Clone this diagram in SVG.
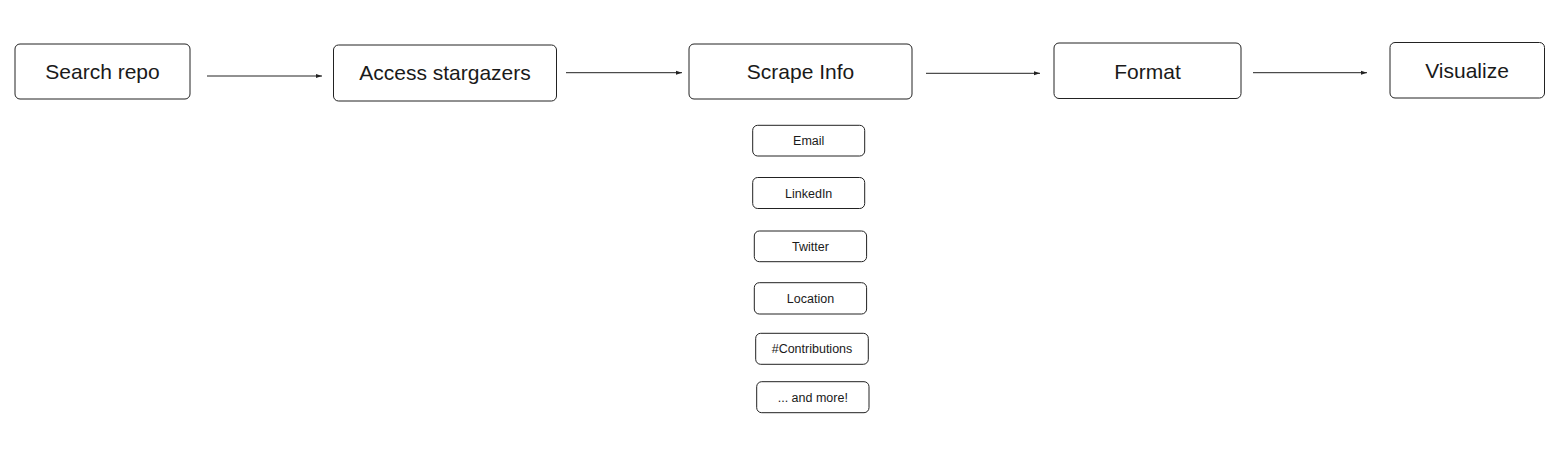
<svg xmlns="http://www.w3.org/2000/svg" width="1568" height="458" viewBox="0 0 1568 458">
<style>
.box{fill:#fff;stroke:#222;stroke-width:1}
.big{font-family:"Liberation Sans",Arial,sans-serif;font-size:21px;fill:#1a1a1a;text-anchor:middle}
.sm{font-family:"Liberation Sans",Arial,sans-serif;font-size:12.5px;fill:#1a1a1a;text-anchor:middle}
.edge{stroke:#222;stroke-width:1;fill:none}
</style>
<defs>
<marker id="ah" viewBox="0 0 6 6" refX="6" refY="3" markerWidth="6" markerHeight="6" markerUnits="userSpaceOnUse" orient="auto">
<path d="M0,1 L6,3 L0,5 Z" fill="#222"/>
</marker>
</defs>
<rect width="1568" height="458" fill="#fff"/>
<g id="connectors">
<line class="edge" x1="207" y1="76" x2="322" y2="76" marker-end="url(#ah)"/>
<line class="edge" x1="566" y1="72.7" x2="682" y2="72.7" marker-end="url(#ah)"/>
<line class="edge" x1="926" y1="73.3" x2="1040" y2="73.3" marker-end="url(#ah)"/>
<line class="edge" x1="1253" y1="72.7" x2="1367" y2="72.7" marker-end="url(#ah)"/>
</g>
<g id="search-repo"><rect class="box" x="15" y="44" width="175" height="55" rx="5"/><text class="big" x="102.5" y="79">Search repo</text></g>
<g id="access-stargazers"><rect class="box" x="333.5" y="45" width="223" height="56" rx="5"/><text class="big" x="445" y="80">Access stargazers</text></g>
<g id="scrape-info"><rect class="box" x="689" y="44" width="223" height="55" rx="5"/><text class="big" x="800.5" y="79">Scrape Info</text></g>
<g id="format"><rect class="box" x="1054" y="43" width="187" height="55.5" rx="5"/><text class="big" x="1147.5" y="78.5">Format</text></g>
<g id="visualize"><rect class="box" x="1390" y="42.5" width="154.5" height="55.5" rx="5"/><text class="big" x="1467" y="78">Visualize</text></g>
<g id="email"><rect class="box" x="752.7" y="125.3" width="112" height="30.7" rx="5"/><text class="sm" x="808.7" y="145.2">Email</text></g>
<g id="linkedin"><rect class="box" x="752.7" y="177.5" width="112" height="31" rx="5"/><text class="sm" x="808.7" y="197.5">LinkedIn</text></g>
<g id="twitter"><rect class="box" x="754.3" y="231" width="112.3" height="30.7" rx="5"/><text class="sm" x="810.5" y="250.8">Twitter</text></g>
<g id="location"><rect class="box" x="754.3" y="282.7" width="112.3" height="31.3" rx="5"/><text class="sm" x="810.5" y="302.8">Location</text></g>
<g id="contributions"><rect class="box" x="755.7" y="333.3" width="112.6" height="31" rx="5"/><text class="sm" x="812" y="353.3">#Contributions</text></g>
<g id="and-more"><rect class="box" x="756.7" y="381.7" width="112.3" height="31" rx="5"/><text class="sm" x="812.8" y="401.7">... and more!</text></g>
</svg>
